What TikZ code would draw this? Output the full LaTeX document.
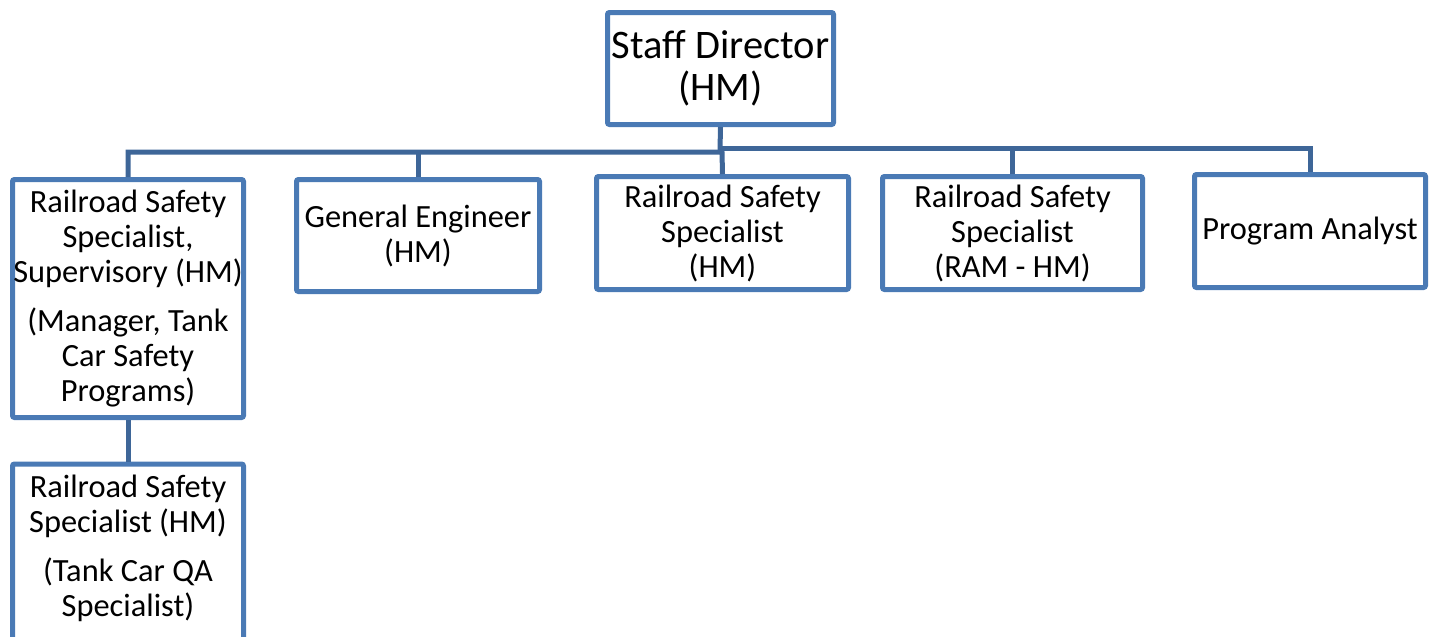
\documentclass[tikz,border=0pt]{standalone}
\usepackage{fontspec}
\setmainfont{Carlito}
\definecolor{boxline}{RGB}{74,122,181}
\definecolor{connline}{RGB}{62,102,152}
\begin{document}
\begin{tikzpicture}[x=1pt,y=-1pt,
  orgbox/.style={draw=boxline, line width=5pt, rounded corners=2pt, fill=white,
    inner sep=0pt, align=center, font=\fontsize{32.4}{35}\selectfont},
  conn/.style={draw=connline, line width=5pt}]
\useasboundingbox (0,0) rectangle (1435,637);

% boxes (sizes measured to the stroke centre)
\node[orgbox, minimum width=226pt, minimum height=112pt,
  font=\fontsize{40.5}{42}\selectfont] (dir) at (720.5,68.5) {Staff Director\\(HM)};
\node[orgbox, minimum width=231pt, minimum height=238pt] (b1) at (128,298.5)
  {Railroad Safety\\Specialist,\\Supervisory (HM)\\[14pt](Manager, Tank\\Car Safety\\Programs)};
\node[orgbox, minimum width=243pt, minimum height=112pt] (b2) at (418,235.5)
  {General Engineer\\(HM)};
\node[orgbox, minimum width=252pt, minimum height=113pt] (b3) at (722.5,233)
  {Railroad Safety\\Specialist\\(HM)};
\node[orgbox, minimum width=260pt, minimum height=113pt] (b4) at (1012.5,233)
  {Railroad Safety\\Specialist\\(RAM - HM)};
\node[orgbox, minimum width=231pt, minimum height=113pt] (b5) at (1310,231)
  {Program Analyst};
\node[orgbox, minimum width=231pt, minimum height=200pt, anchor=north] (b6) at (128,461.5) {};
\node[align=center, inner sep=0pt, font=\fontsize{32.4}{35}\selectfont] (b6t) at (128,548)
  {Railroad Safety\\Specialist (HM)\\[14pt](Tank Car QA\\Specialist)};

% bus junctions
\coordinate (jd) at (720,150);
\coordinate (jl) at (722,152);
\coordinate (jr) at (720,148);

% connectors
\draw[conn] (dir.south) -- (jd);
\draw[conn] (b1.north) |- (jl) -- (b3.north);
\draw[conn] (b2.north) -- (b2.north |- jl);
\draw[conn] (jr) -| (b5.north);
\draw[conn] (b4.north) -- (b4.north |- jr);
\draw[conn] (b1.south) -- (b6.north);
\end{tikzpicture}
\end{document}
